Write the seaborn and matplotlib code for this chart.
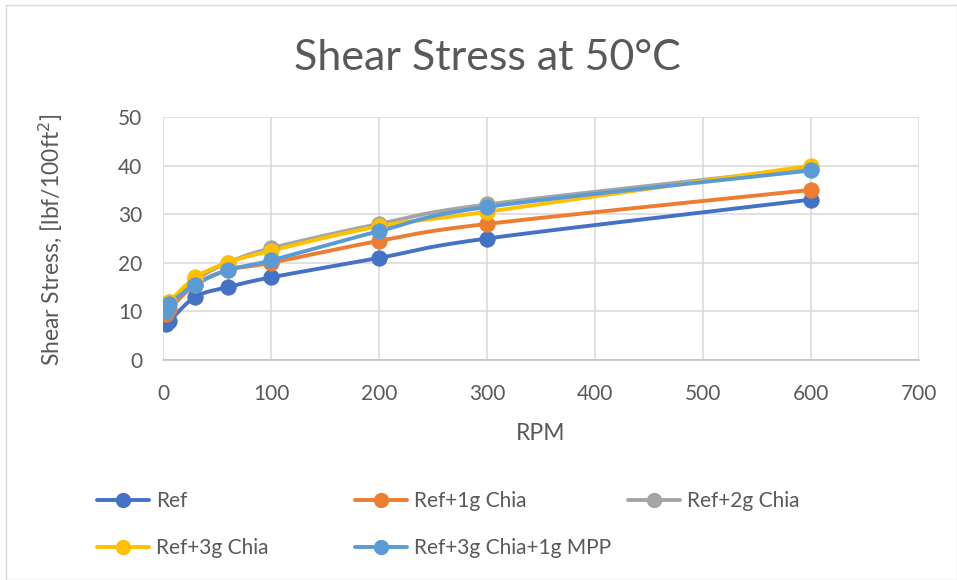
import numpy as np
import pandas as pd
import matplotlib
matplotlib.use("Agg")
import matplotlib.pyplot as plt
from matplotlib.lines import Line2D
from matplotlib.patches import Rectangle
import seaborn as sns

# Viscometer readings (shear stress, lbf/100ft^2) at 50 °C
rpm = [3, 6, 30, 60, 100, 200, 300, 600]
ref = [7.5, 8, 13, 15, 17, 21, 25, 33]
ref_1g_chia = [9.5, 10.5, 15.5, 18.5, 20, 24.5, 28, 35]
ref_2g_chia = [11, 12, 16.5, 20, 23, 28, 32, 39.5]
ref_3g_chia = [11.5, 12, 17, 20, 22.5, 27.5, 30.5, 40]
ref_3g_chia_mpp = [10, 11.5, 15.5, 18.5, 20.5, 26.5, 31.5, 39]

series_names = ["Ref", "Ref+1g Chia", "Ref+2g Chia", "Ref+3g Chia", "Ref+3g Chia+1g MPP"]
series_values = [ref, ref_1g_chia, ref_2g_chia, ref_3g_chia, ref_3g_chia_mpp]
colors = ["#4472C4", "#ED7D31", "#A5A5A5", "#FFC000", "#5B9BD5"]

sns.set_theme(style="white")
plt.rcParams["font.family"] = ["Lato", "DejaVu Sans"]
TXT = "#595959"


def smooth(x, y, n=30):
    """Bezier smoothing through the points (Catmull-Rom control points)."""
    x = np.asarray(x, float)
    y = np.asarray(y, float)
    px = np.concatenate([[x[0]], x, [x[-1]]])
    py = np.concatenate([[y[0]], y, [y[-1]]])
    xs, ys = [], []
    t = np.linspace(0, 1, n)
    for i in range(1, len(px) - 2):
        p0 = np.array([px[i - 1], py[i - 1]])
        p1 = np.array([px[i], py[i]])
        p2 = np.array([px[i + 1], py[i + 1]])
        p3 = np.array([px[i + 2], py[i + 2]])
        c1 = p1 + (p2 - p0) / 6
        c2 = p2 - (p3 - p1) / 6
        pts = ((1 - t) ** 3)[:, None] * p1 + (3 * (1 - t) ** 2 * t)[:, None] * c1 \
            + (3 * (1 - t) * t ** 2)[:, None] * c2 + (t ** 3)[:, None] * p2
        xs.extend(pts[:, 0])
        ys.extend(pts[:, 1])
    return np.array(xs), np.array(ys)


fig = plt.figure(figsize=(9.57, 5.8), dpi=100)
W, H = 957, 580
ax = fig.add_axes([163 / W, 1 - 360 / H, (919 - 163) / W, (360 - 117) / H])

for name, vals, col in zip(series_names, series_values, colors):
    sx, sy = smooth(rpm, vals)
    curve = pd.DataFrame({"RPM": sx, "stress": sy})
    sns.lineplot(data=curve, x="RPM", y="stress", sort=False, estimator=None,
                 color=col, linewidth=2.8, ax=ax, zorder=3)
    pts = pd.DataFrame({"RPM": rpm, "stress": vals})
    sns.scatterplot(data=pts, x="RPM", y="stress", color=col, s=125,
                    edgecolor=col, linewidth=0.5, ax=ax, zorder=4)

ax.set_xlim(0, 700)
ax.set_ylim(0, 50)
ax.set_xticks(range(0, 701, 100))
ax.set_yticks(range(0, 51, 10))
ax.grid(True, color="#D9D9D9", linewidth=1.1)
ax.set_axisbelow(True)
for side in ["top", "right", "left"]:
    ax.spines[side].set_visible(False)
ax.spines["bottom"].set_color("#BFBFBF")
ax.spines["bottom"].set_linewidth(1.1)
ax.tick_params(axis="both", length=0, labelsize=15, labelcolor=TXT)
ax.tick_params(axis="y", pad=15)
ax.tick_params(axis="x", pad=17)
ax.set_xlabel("RPM", fontsize=16.5, color=TXT)
ax.set_ylabel("Shear Stress, [lbf/100ft$^2$]", fontsize=16.5, color=TXT)
ax.xaxis.set_label_coords((541 - 163) / 756, (360 - 423) / 243)
ax.yaxis.set_label_coords((64 - 163) / 756, (360 - 240) / 243)

fig.text(487 / W, 1 - 58 / H, "Shear Stress at 50°C", ha="center", va="center",
         fontsize=31, color=TXT)

# Legend laid out in three columns below the plot
def handle(col):
    return Line2D([0], [0], color=col, linewidth=2.8, marker="o", markersize=10)

columns = [([0, 3], 97), ([1, 4], 355), ([2], 628)]
for idxs, x0 in columns:
    leg = fig.legend([handle(colors[i]) for i in idxs], [series_names[i] for i in idxs],
                     loc="upper left", bbox_to_anchor=(x0 / W, 1 - 491 / H),
                     frameon=False, fontsize=15, labelcolor=TXT, handlelength=2.5,
                     handletextpad=0.35, labelspacing=1.3, borderpad=0, borderaxespad=0)

fig.patches.append(Rectangle((6 / W, 0), 1 - 6 / W, 1 - 5 / H, transform=fig.transFigure,
                             fill=False, edgecolor="#D9D9D9", linewidth=1.0))

fig.savefig("out.png", dpi=100)
